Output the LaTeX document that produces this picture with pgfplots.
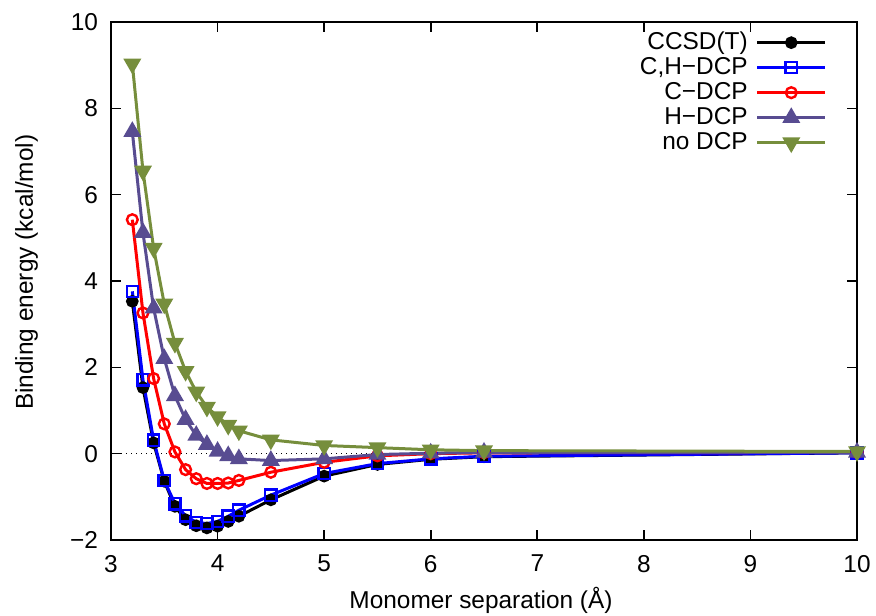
\documentclass[border=0pt]{standalone}
\usepackage{pgfplots}
\pgfplotsset{compat=1.18}
\usepackage{fontspec}
\setmainfont{Liberation Sans}
\definecolor{hdcp}{RGB}{88,76,145}
\definecolor{nodcp}{RGB}{118,142,60}
\begin{document}
\begin{tikzpicture}
\begin{axis}[
  scale only axis, width=373pt, height=259pt,
  xmin=3, xmax=10, ymin=-2, ymax=10,
  xtick={3,4,5,6,7,8,9,10},
  ytick={-2,0,2,4,6,8,10},
  yticklabels={−2,0,2,4,6,8,10},
  tick align=inside, tick pos=both,
  major tick length=5pt,
  axis line style={line width=0.8pt},
  every tick/.style={line width=0.8pt, black},
  /pgf/number format/assume math mode=true,
  tick label style={font=\fontsize{12.2}{14}\selectfont},
  xticklabel style={yshift=-4pt},
  yticklabel style={xshift=-3pt},
  label style={font=\fontsize{12.2}{14}\selectfont},
  xlabel={Monomer separation (Å)},
  ylabel={Binding energy (kcal/mol)},
  xlabel style={at={(axis description cs:0.496,-0.1313)}, anchor=base},
  ylabel style={at={(axis description cs:-0.1046,0.517)}, anchor=base},
  legend style={draw=none, fill=none, at={(axis description cs:0.96,0.985)}, anchor=north east,
    font=\fontsize{12.2}{14}\selectfont, row sep=0pt, inner sep=0pt,
    nodes={text height=8.7pt, text depth=2.3pt, inner ysep=0.75pt, inner xsep=4pt}},
  legend cell align=right,
  legend plot pos=right,
  legend image code/.code={
    \draw[mark repeat=2,mark phase=2] plot coordinates {(0pt,0pt) (17pt,0pt) (34pt,0pt)};},
]
\draw[dotted, line width=0.5pt] (axis cs:3,0) -- (axis cs:10,0);
\addplot[black, line width=1.5pt, mark=*, mark size=2.4pt, mark options={solid}] coordinates {
(3.2,3.53) (3.3,1.53) (3.4,0.25) (3.5,-0.64) (3.6,-1.22) (3.7,-1.53) (3.8,-1.67) (3.9,-1.72) (4.0,-1.68) (4.1,-1.57) (4.2,-1.45) (4.5,-1.07) (5.0,-0.52) (5.5,-0.25) (6.0,-0.13) (6.5,-0.07) (10,0.02)};
\addlegendentry{CCSD(T)}
\addplot[blue, line width=1.5pt, mark=square, mark size=2.8pt, mark options={solid, line width=1.2pt}] coordinates {
(3.2,3.76) (3.3,1.71) (3.4,0.31) (3.5,-0.62) (3.6,-1.16) (3.7,-1.44) (3.8,-1.59) (3.9,-1.62) (4.0,-1.57) (4.1,-1.45) (4.2,-1.31) (4.5,-0.96) (5.0,-0.46) (5.5,-0.23) (6.0,-0.12) (6.5,-0.06) (10,0.02)};
\addlegendentry{C,H−DCP}
\addplot[red, line width=1.5pt, mark=o, mark size=2.7pt, mark options={solid, line width=1.2pt}] coordinates {
(3.2,5.42) (3.3,3.26) (3.4,1.74) (3.5,0.69) (3.6,0.04) (3.7,-0.37) (3.8,-0.58) (3.9,-0.69) (4.0,-0.69) (4.1,-0.68) (4.2,-0.62) (4.5,-0.43) (5.0,-0.20) (5.5,-0.05) (6.0,0.00) (6.5,0.02) (10,0.03)};
\addlegendentry{C−DCP}
\addplot[hdcp, line width=1.5pt, mark=triangle*, mark size=3.7pt, mark options={solid}] coordinates {
(3.2,7.46) (3.3,5.12) (3.4,3.37) (3.5,2.20) (3.6,1.34) (3.7,0.79) (3.8,0.42) (3.9,0.21) (4.0,0.05) (4.1,-0.05) (4.2,-0.12) (4.5,-0.16) (5.0,-0.12) (5.5,-0.02) (6.0,0.01) (6.5,0.03) (10,0.03)};
\addlegendentry{H−DCP}
\addplot[nodcp, line width=1.5pt, mark=triangle*, mark size=3.7pt, mark options={solid, rotate=180}] coordinates {
(3.2,9.03) (3.3,6.55) (3.4,4.76) (3.5,3.47) (3.6,2.56) (3.7,1.91) (3.8,1.43) (3.9,1.08) (4.0,0.86) (4.1,0.66) (4.2,0.53) (4.5,0.32) (5.0,0.19) (5.5,0.14) (6.0,0.09) (6.5,0.07) (10,0.05)};
\addlegendentry{no DCP}
\end{axis}
\pgfresetboundingbox
\path (current axis.south west) ++(-55.5pt,-37.5pt) coordinate (bl);
\path (current axis.north east) ++(9.5pt,11pt) coordinate (tr);
\path[use as bounding box] (bl) rectangle (tr);
\end{tikzpicture}
\end{document}
